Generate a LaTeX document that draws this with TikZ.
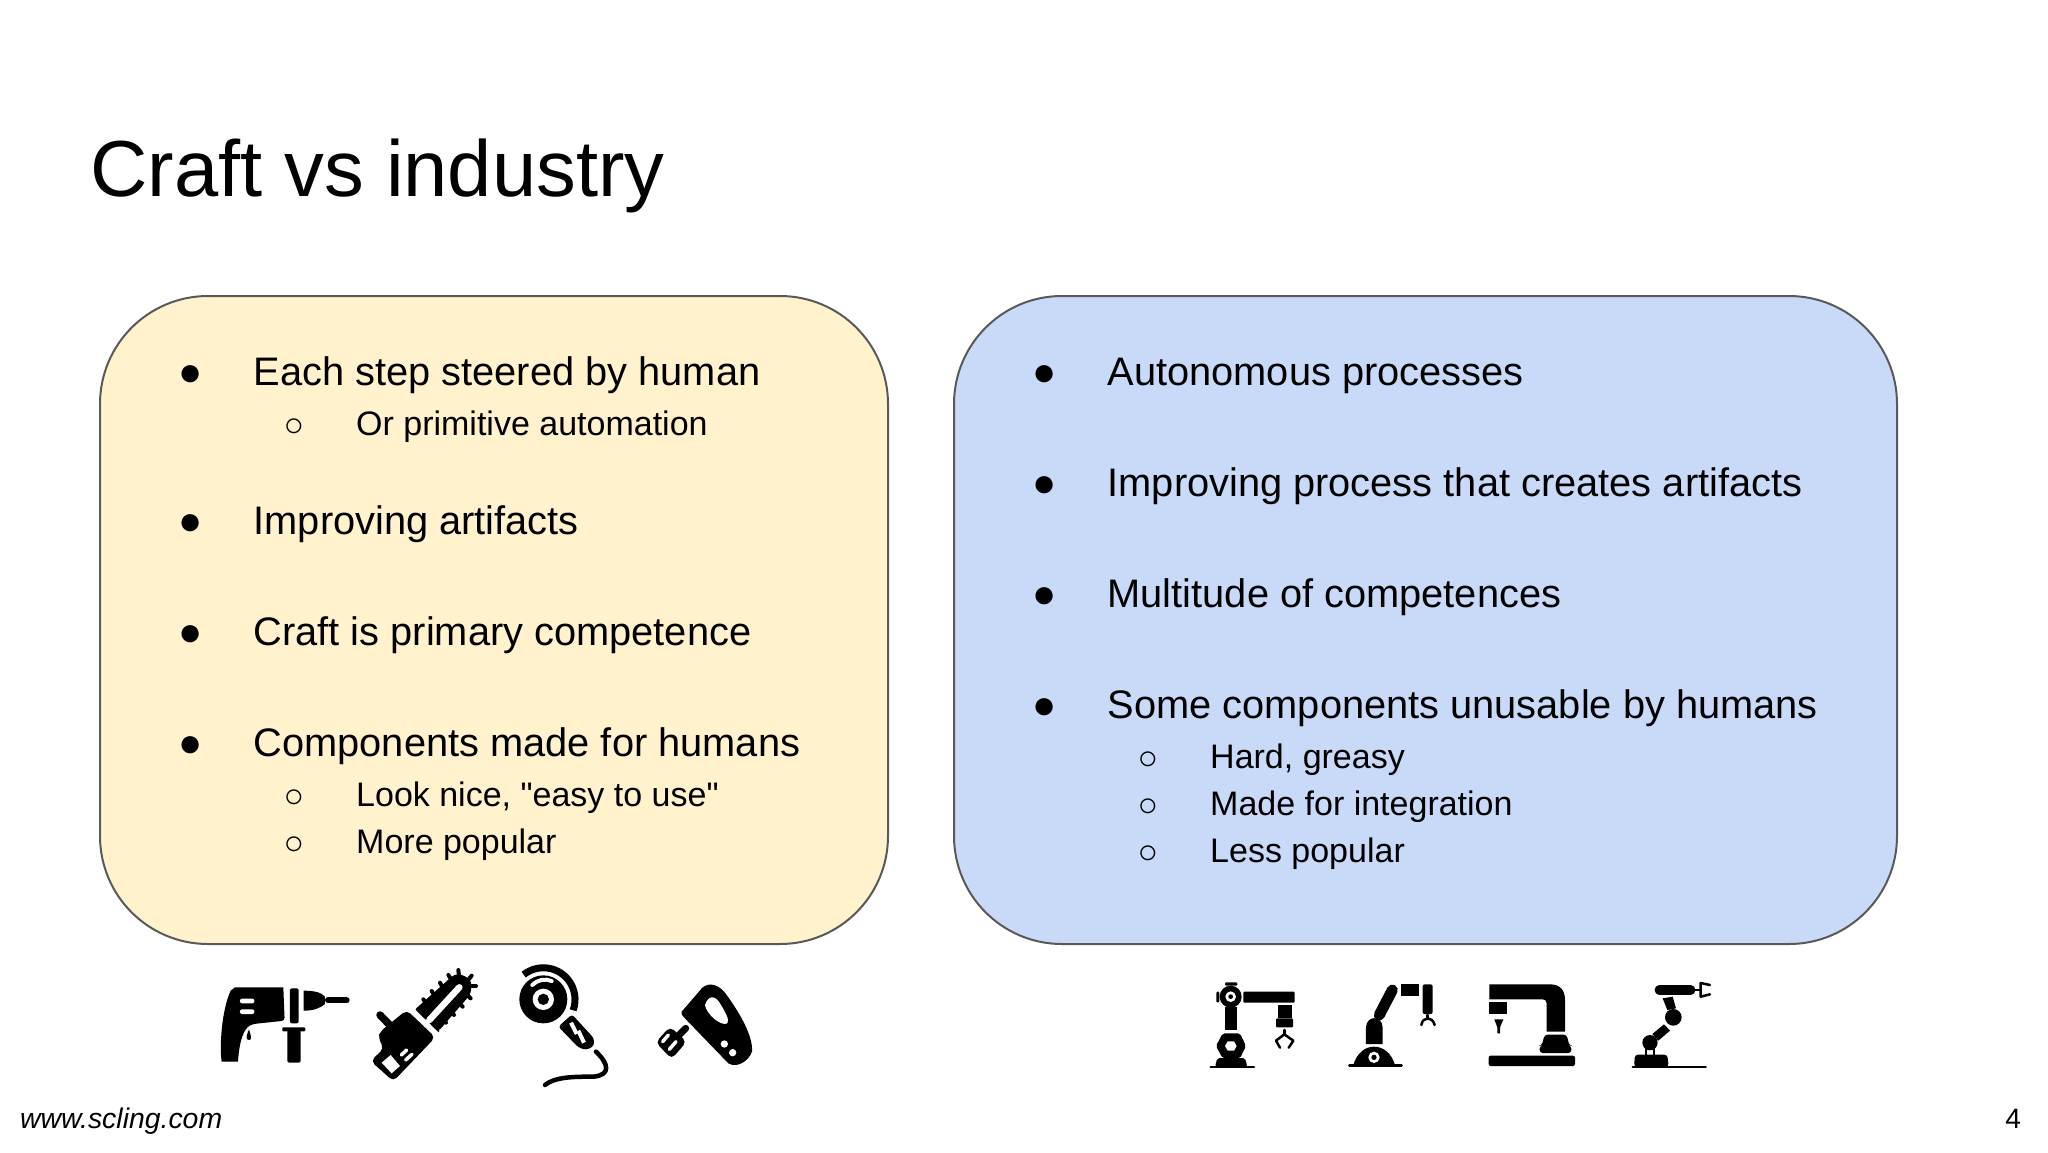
\documentclass[tikz,border=0pt]{standalone}
\usepackage{fontspec}
\setmainfont{Liberation Sans}
\newfontfamily\plainfont{Liberation Sans}
\begin{document}
\begin{tikzpicture}
	[x=1pt,y=-1pt,
	box/.style={draw=black!65,line width=2pt,rounded corners=108pt,minimum height=648pt,inner sep=0pt},
	main/.style={anchor=base west,inner sep=0pt,xshift=0.5pt,yshift=-0.3pt,font=\fontsize{39.8}{48}\selectfont},
	sub/.style={anchor=base west,inner sep=0pt,yshift=-1pt,font=\fontsize{34}{40}\selectfont},
	dot/.style={anchor=center,inner sep=0pt,xshift=1pt,yshift=-2pt,font=\fontsize{40}{48}\selectfont},
	ring/.style={anchor=center,inner sep=0pt,yshift=-1.5pt,font=\fontsize{34}{40}\selectfont},
	icon/.style={x=0.3333pt,y=-0.3333pt},
	ink/.style={fill=black,draw=none},
	hole/.style={fill=white,draw=none},
	wire/.style={draw=black,fill=none,line cap=round,line join=round},
	gap/.style={draw=white,fill=none,line cap=round}]

	\useasboundingbox (0,0) rectangle (2048,1152);

	\node[anchor=base west,inner sep=0pt,font=\fontsize{79.5}{96}\selectfont] (title) at (90,196) {Craft vs industry};

	\node[box,fill={rgb,255:red,255;green,242;blue,204},minimum width=788pt] (craft) at (494,620) {};
	\node[box,fill={rgb,255:red,201;green,218;blue,248},minimum width=943pt] (industry) at (1425.5,620) {};

	\node[dot] (c1d) at (190,374) {●};
	\node[main] (c1) at (253,385) {Each step steered by human};
	\node[ring] (c2d) at (294,426) {○};
	\node[sub] (c2) at (356,434) {Or primitive automation};
	\node[dot] (c3d) at (190,523) {●};
	\node[main] (c3) at (253,534) {Improving artifacts};
	\node[dot] (c4d) at (190,634) {●};
	\node[main] (c4) at (253,645) {Craft is primary competence};
	\node[dot] (c5d) at (190,745) {●};
	\node[main] (c5) at (253,756) {Components made for humans};
	\node[ring] (c6d) at (294,797) {○};
	\node[sub] (c6) at (356,805) {\plainfont Look nice, "easy to use"};
	\node[ring] (c7d) at (294,844) {○};
	\node[sub] (c7) at (356,852) {More popular};

	\node[dot] (i1d) at (1044,374) {●};
	\node[main] (i1) at (1107,385) {Autonomous processes};
	\node[dot] (i2d) at (1044,485) {●};
	\node[main] (i2) at (1107,496) {Improving process that creates artifacts};
	\node[dot] (i3d) at (1044,596) {●};
	\node[main] (i3) at (1107,607) {Multitude of competences};
	\node[dot] (i4d) at (1044,707) {●};
	\node[main] (i4) at (1107,718) {Some components unusable by humans};
	\node[ring] (i5d) at (1148,759) {○};
	\node[sub] (i5) at (1210,767) {Hard, greasy};
	\node[ring] (i6d) at (1148,806) {○};
	\node[sub] (i6) at (1210,814) {Made for integration};
	\node[ring] (i7d) at (1148,853) {○};
	\node[sub] (i7) at (1210,861) {Less popular};

	\node[anchor=base west,inner sep=0pt,font=\fontsize{28.4}{34}\itshape\selectfont] (site) at (20,1128) {www.scling.com};
	\node[anchor=base east,inner sep=0pt,font=\fontsize{28}{34}\selectfont] (page) at (2021,1128) {4};

	\begin{scope}[shift={(200,950)},icon]
		\fill[ink] (105,112) -- (250,112) [rounded corners=3pt] -- (254,212) -- (160,222) [sharp corners] .. controls (130,235) and (118,275) .. (114,335) -- (65,335) .. controls (58,290) and (65,180) .. (92,122) -- cycle;
		\fill[hole,rounded corners=2pt] (120,146) rectangle (163,160);
		\fill[hole,rounded corners=2pt] (120,178) rectangle (163,192);
		\fill[ink] (147,238) .. controls (140,255) and (135,270) .. (147,270) .. controls (158,270) and (152,255) .. (147,238) -- cycle;
		\fill[ink,rounded corners=2pt] (270,115) rectangle (296,220);
		\fill[ink,rounded corners=1pt] (247,232) rectangle (316,244);
		\fill[ink,rounded corners=2pt] (262,240) rectangle (302,338);
		\fill[ink] (311,122) .. controls (345,122) and (365,128) .. (375,140) -- (375,162) .. controls (360,175) and (340,182) .. (311,182) -- cycle;
		\draw[wire,line width=6pt] (384,151) -- (440,151);
	\end{scope}

	\begin{scope}[shift={(370,960)},icon]
		\foreach \tipx/\tipy/\rootx/\rooty in {160/118/172/135,185/93/197/112,210/68/222/90,235/45/248/65,265/30/268/55,305/47/290/65,318/78/295/78,302/115/285/98,278/140/262/122,252/165/238/145,228/188/212/168,202/212/188/195} {
			\draw[wire,line width=4pt] (\tipx,\tipy) -- (\rootx,\rooty);
		}
		\fill[ink,rounded corners=3pt] (133,150) -- (245,50) .. controls (265,38) and (305,50) .. (304,85) -- (300,105) -- (205,214) -- cycle;
		\draw[gap,line width=6.5pt] (178,180) -- (268,82);
		\draw[gap,line width=3pt,line cap=butt] (118,138) -- (208,226);
		\draw[wire,line width=7.5pt] (30,165) -- (62,198);
		\fill[ink,rounded corners=5pt] (110,150) -- (196,232) -- (70,364) -- (2,303) -- (42,265) -- (25,235) -- (30,215) -- cycle;
		\fill[hole] (35,308) -- (62,285) -- (90,318) -- (65,340) -- cycle;
		\draw[gap,line width=3.5pt] (94,285) -- (110,270);
		\draw[gap,line width=3.5pt] (107,300) -- (126,283);
	\end{scope}

	\begin{scope}[shift={(510,960)},icon]
		\draw[wire,line width=7pt,line cap=butt] (41,44) arc[start angle=231.5,end angle=380,radius=95];
		\fill[ink] (100,118) circle (72);
		\fill[hole] (100,118) circle (32);
		\fill[ink] (100,118) circle (17);
		\draw[gap,line width=4pt] (67,75) .. controls (85,58) and (105,55) .. (125,63);
		\fill[ink,rounded corners=3pt] (145,200) -- (186,163) -- (252,235) -- (252,258) -- (228,270) -- (205,262) -- cycle;
		\draw[gap,line width=4pt,line cap=butt] (183,188) -- (200,222);
		\draw[gap,line width=4pt,line cap=butt] (205,212) -- (222,248);
		\draw[wire,line width=4.5pt] (258,275) .. controls (295,310) and (305,345) .. (250,350) .. controls (195,350) and (135,350) .. (105,375);
	\end{scope}

	\begin{scope}[shift={(640,970)},icon]
		\fill[ink] (125,125) -- (188,52) .. controls (210,35) and (240,45) .. (260,75) .. controls (300,130) and (340,200) .. (336,245) .. controls (325,275) and (290,295) .. (265,280) -- (130,140) .. controls (124,134) and (124,130) .. (125,125) -- cycle;
		\fill[hole] (195,105) .. controls (205,75) and (225,75) .. (240,100) .. controls (255,125) and (270,150) .. (262,160) .. controls (245,170) and (200,135) .. (195,105) -- cycle;
		\fill[hole] (253,222) circle (11);
		\fill[hole] (278,248) circle (11);
		\draw[wire,line width=7pt] (137,175) -- (118,194);
		\fill[ink,rounded corners=5pt] (90,170) -- (140,215) -- (95,267) -- (47,217) -- cycle;
		\draw[gap,line width=3.5pt] (85,195) -- (68,215);
		\draw[gap,line width=3.5pt] (108,215) -- (88,238);
	\end{scope}

	\begin{scope}[shift={(1190,970)},icon]
		\fill[ink] (105,110) rectangle (142,180);
		\fill[ink,rounded corners=2pt] (78,228) -- (98,190) -- (150,190) -- (168,228) -- (150,265) -- (98,265) -- cycle;
		\fill[hole] (105,228) -- (113,214) -- (132,214) -- (140,228) -- (132,242) -- (113,242) -- cycle;
		\fill[ink,rounded corners=2pt] (75,290) -- (82,264) -- (165,264) -- (172,290) -- cycle;
		\draw[wire,line width=2.5pt] (62,291) -- (192,291);
		\fill[ink] (122,80) circle (33);
		\fill[hole] (122,80) circle (16);
		\fill[ink] (122,80) circle (7);
		\fill[ink,rounded corners=1pt] (105,37) rectangle (142,47);
		\fill[ink,rounded corners=1pt] (79,65) rectangle (88,97);
		\fill[ink,rounded corners=1pt] (160,65) rectangle (314,98);
		\fill[ink] (265,105) rectangle (305,145);
		\fill[ink,rounded corners=1pt] (258,145) rectangle (309,172);
		\draw[wire,line width=2.5pt] (283,180) -- (283,192);
		\draw[wire,line width=2.5pt] (270,233) -- (258,212) -- (283,193) -- (310,212) -- (296,233);
		\fill[ink] (490,285) .. controls (500,250) and (525,230) .. (552,230) .. controls (580,230) and (605,250) .. (615,285) -- cycle;
		\draw[wire,line width=2.5pt] (478,287) -- (635,287);
		\fill[hole] (552,262) circle (17);
		\fill[ink] (552,262) circle (8);
		\fill[ink] (528,222) -- (528,172) .. controls (530,135) and (576,135) .. (578,172) -- (578,222) -- cycle;
		\draw[wire,line width=11pt] (568,135) -- (607,60);
		\fill[ink] (632,43) rectangle (688,78);
		\fill[ink,rounded corners=2pt] (698,43) rectangle (728,132);
		\draw[wire,line width=2.5pt] (712,135) -- (712,146);
		\draw[wire,line width=2.5pt] (694,165) .. controls (697,150) and (705,146) .. (712,146) .. controls (722,146) and (730,150) .. (734,165);
	\end{scope}

	\begin{scope}[shift={(1450,970)},icon]
		\fill[ink] (118,43) -- (300,43) .. controls (330,43) and (345,60) .. (345,90) -- (345,185) -- (290,185) -- (290,100) .. controls (290,92) and (285,88) .. (278,88) -- (118,88) -- cycle;
		\fill[ink] (118,95) rectangle (172,132);
		\fill[ink] (133,148) -- (160,148) -- (150,172) -- (150,190) -- (142,190) -- (142,172) -- cycle;
		\fill[ink,rounded corners=3pt] (284,194) -- (350,194) -- (358,227) -- (364,227) -- (364,249) -- (269,249) -- (269,227) -- (275,227) -- cycle;
		\fill[ink,rounded corners=2pt] (116,257) rectangle (375,288);
		\draw[wire,line width=9.5pt] (628,60) -- (722,60);
		\draw[wire,line width=2.5pt] (725,60) -- (752,60);
		\draw[wire,line width=2.5pt] (780,45) -- (752,39) -- (752,80) -- (780,73);
		\fill[ink] (638,85) -- (668,80) -- (678,115) -- (652,120) -- cycle;
		\fill[ink] (670,142) circle (25);
		\fill[ink] (642,163) -- (660,182) -- (625,212) -- (607,192) -- cycle;
		\fill[ink] (600,218) circle (23);
		\fill[ink,rounded corners=3pt] (552,290) -- (555,254) -- (652,254) -- (656,290) -- cycle;
		\draw[wire,line width=2pt] (589,236) -- (589,254);
		\draw[wire,line width=2pt] (612,236) -- (612,254);
		\draw[wire,line width=2pt] (548,291) -- (768,291);
	\end{scope}
\end{tikzpicture}
\end{document}
